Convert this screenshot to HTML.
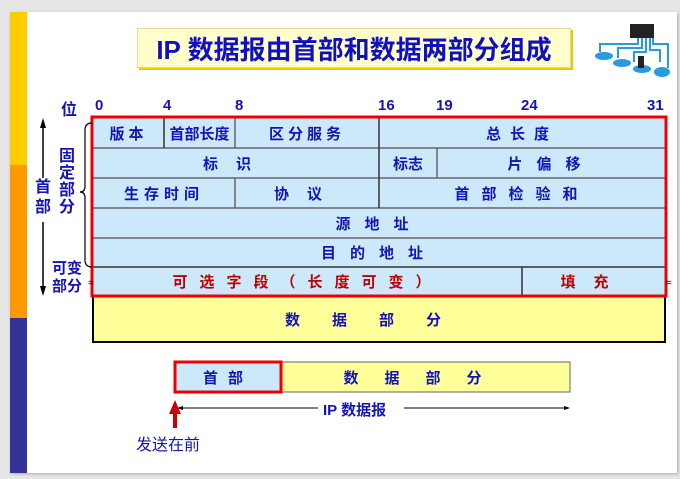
<!DOCTYPE html>
<html><head><meta charset="utf-8"><style>
body{margin:0;width:680px;height:479px;background:#e6e6e6;position:relative;overflow:hidden;font-family:"Liberation Sans","Noto Sans CJK SC",sans-serif;}
.a{position:absolute;}
.c{position:absolute;display:flex;align-items:center;justify-content:center;color:#1414b4;font-weight:bold;font-size:15px;white-space:nowrap;box-sizing:border-box;}
.n{position:absolute;color:#1414b4;font-weight:bold;font-size:15px;}
</style></head><body>
<div class="a" style="left:10px;top:12px;width:667px;height:461px;background:#fff;box-shadow:1px 1px 3px #aaa"></div>
<div class="a" style="left:10px;top:12px;width:17px;height:153px;background:#ffcc00"></div>
<div class="a" style="left:10px;top:165px;width:17px;height:153px;background:#ff9900"></div>
<div class="a" style="left:10px;top:318px;width:17px;height:155px;background:#333399"></div>

<div class="c" style="left:137px;top:28px;width:434px;height:40px;background:#ffffcc;border:1px solid #e8d890;box-shadow:2px 2px 0 #f0c800;font-size:26px;color:#1010c0">IP 数据报由首部和数据两部分组成</div>

<svg class="a" style="left:590px;top:20px" width="80" height="60">
<rect x="40" y="4" width="24" height="14" fill="#222"/>
<g stroke="#2a9ae0" stroke-width="2" fill="none"><path d="M48 18 L48 24 L10 24 L10 32"/><path d="M52 18 L52 28 L28 28 L28 38"/><path d="M56 18 L56 32 L44 32 L44 42"/><path d="M60 18 L60 30 L70 30 L70 42"/><path d="M63 18 L63 24 L78 24 L78 48"/></g>
<ellipse cx="14" cy="36" rx="9" ry="4" fill="#2a9ae0"/><ellipse cx="32" cy="43" rx="9" ry="4" fill="#2a9ae0"/><ellipse cx="52" cy="49" rx="9" ry="4" fill="#2a9ae0"/><ellipse cx="72" cy="52" rx="8" ry="5" fill="#2a9ae0"/>
<rect x="48" y="36" width="6" height="12" fill="#222"/>
</svg>

<div class="n" style="left:61px;top:96px;font-size:16px">位</div>
<div class="n" style="left:95px;top:97px">0</div>
<div class="n" style="left:163px;top:97px">4</div>
<div class="n" style="left:235px;top:97px">8</div>
<div class="n" style="left:378px;top:97px">16</div>
<div class="n" style="left:436px;top:97px">19</div>
<div class="n" style="left:521px;top:97px">24</div>
<div class="n" style="left:647px;top:97px">31</div>

<div class="a" style="left:93px;top:118px;width:572px;height:177px;background:#cce9fb"></div>
<svg class="a" style="left:0;top:0" width="680" height="479">
<g stroke="#666" stroke-width="1.5">
<line x1="93" y1="148" x2="665" y2="148"/><line x1="93" y1="178" x2="665" y2="178"/><line x1="93" y1="208" x2="665" y2="208"/><line x1="93" y1="238" x2="665" y2="238"/>
<line x1="93" y1="267" x2="665" y2="267" stroke="#333"/>
<line x1="164" y1="118" x2="164" y2="148" stroke="#333"/><line x1="235" y1="118" x2="235" y2="148"/><line x1="379" y1="118" x2="379" y2="208" stroke="#333"/><line x1="437" y1="148" x2="437" y2="178"/><line x1="235" y1="178" x2="235" y2="208"/><line x1="522" y1="267" x2="522" y2="295" stroke="#333"/>
</g>
<rect x="93" y="296" width="572" height="46" fill="#ffff99" stroke="#000" stroke-width="2"/>
<rect x="92" y="117" width="574" height="179" fill="none" stroke="#ee0000" stroke-width="3"/>
<line x1="43" y1="128" x2="43" y2="178" stroke="#000" stroke-width="1.5"/>
<line x1="43" y1="222" x2="43" y2="288" stroke="#000" stroke-width="1.5"/>
<polygon points="43,118 40,128 46,128" fill="#000"/><polygon points="43,296 40,286 46,286" fill="#000"/>
<path d="M92 123 Q85 123 85 130 L85 186 Q85 192 80 192 Q85 192 85 198 L85 260 Q85 267 92 267" fill="none" stroke="#000" stroke-width="1.2"/>
<text x="88" y="286" font-size="10" font-family="Liberation Sans">=</text><text x="666" y="286" font-size="10" font-family="Liberation Sans">=</text>
<rect x="281" y="362" width="289" height="30" fill="#ffff99" stroke="#666" stroke-width="1"/>
<rect x="175" y="362" width="106" height="30" fill="#cce9fb" stroke="#ee0000" stroke-width="3"/>
<line x1="180" y1="408" x2="318" y2="408" stroke="#000"/><line x1="404" y1="408" x2="566" y2="408" stroke="#000"/>
<polygon points="177,408 183,406 183,410" fill="#000"/><polygon points="570,408 564,406 564,410" fill="#000"/>
<polygon points="175,400 169,414 181,414" fill="#cc0000"/><rect x="173" y="413" width="4" height="15" fill="#cc0000"/>
</svg>
<div class="c" style="left:93px;top:118px;width:71px;height:30px;letter-spacing:4px">版本</div>
<div class="c" style="left:164px;top:118px;width:71px;height:30px">首部长度</div>
<div class="c" style="left:235px;top:118px;width:144px;height:30px;letter-spacing:4px">区分服务</div>
<div class="c" style="left:379px;top:118px;width:286px;height:30px;letter-spacing:9px">总长度</div>
<div class="c" style="left:93px;top:148px;width:286px;height:30px;letter-spacing:18px">标识</div>
<div class="c" style="left:379px;top:148px;width:58px;height:30px">标志</div>
<div class="c" style="left:437px;top:148px;width:228px;height:30px;letter-spacing:14px">片偏移</div>
<div class="c" style="left:93px;top:178px;width:142px;height:30px;letter-spacing:5px">生存时间</div>
<div class="c" style="left:235px;top:178px;width:144px;height:30px;letter-spacing:18px">协议</div>
<div class="c" style="left:379px;top:178px;width:286px;height:30px;letter-spacing:12px">首部检验和</div>
<div class="c" style="left:93px;top:208px;width:572px;height:30px;letter-spacing:14px">源地址</div>
<div class="c" style="left:93px;top:238px;width:572px;height:29px;letter-spacing:14px">目的地址</div>
<div class="c" style="left:93px;top:267px;width:429px;height:28px;letter-spacing:12px;color:#c00000">可选字段（长度可变）</div>
<div class="c" style="left:522px;top:267px;width:143px;height:28px;letter-spacing:18px;color:#c00000">填充</div>
<div class="c" style="left:93px;top:296px;width:572px;height:46px;letter-spacing:32px">数据部分</div>
<div class="n" style="left:59px;top:148px;width:18px;line-height:17px;font-size:16px">固定部分</div>
<div class="n" style="left:35px;top:178px;width:18px;line-height:20px;font-size:16px;background:#fff">首部</div>
<div class="n" style="left:52px;top:260px;width:34px;line-height:18px;font-size:15px">可变部分</div>
<div class="c" style="left:175px;top:362px;width:106px;height:30px;letter-spacing:10px">首部</div>
<div class="c" style="left:281px;top:362px;width:289px;height:30px;letter-spacing:26px">数据部分</div>
<div class="n" style="left:323px;top:399px">IP 数据报</div>
<div class="n" style="left:136px;top:431px;font-size:16px;font-weight:normal;color:#1414b4">发送在前</div>
</body></html>
